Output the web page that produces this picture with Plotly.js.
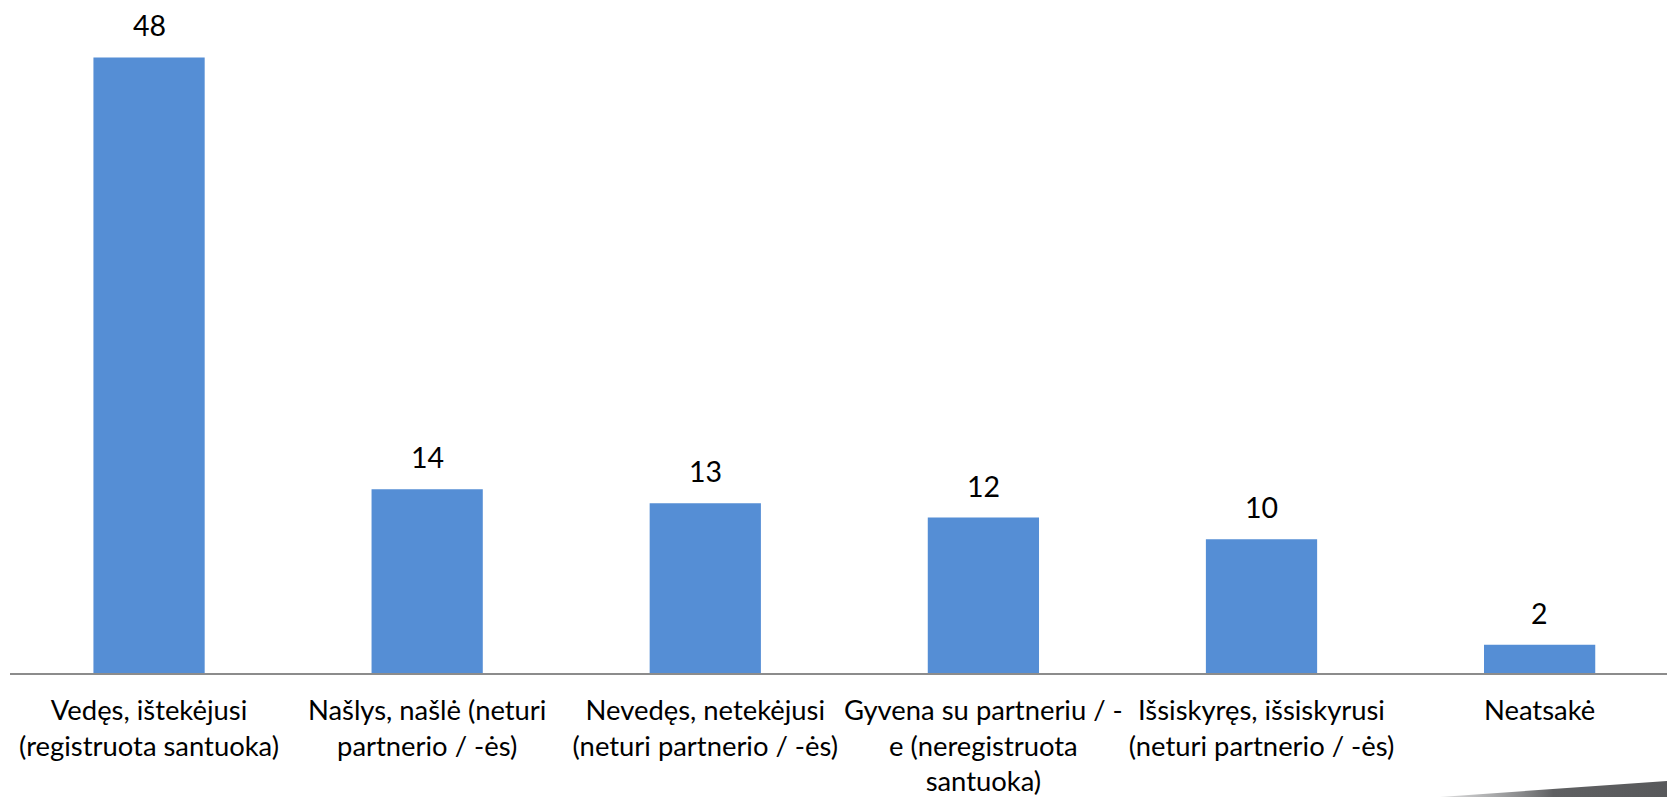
<!DOCTYPE html>
<html>
<head>
<meta charset="utf-8">
<script src="https://cdn.plot.ly/plotly-3.0.1.min.js"></script>
<style>
html,body{margin:0;padding:0;background:#fff;overflow:hidden;}
#chart{width:1667px;height:797px;}
#corner{position:absolute;left:0;top:0;width:1667px;height:797px;pointer-events:none;}
</style>
</head>
<body>
<div id="chart"></div>
<svg id="corner" width="1667" height="797">
<defs>
<linearGradient id="g" x1="0" y1="0" x2="1" y2="0">
<stop offset="0" stop-color="#8a8b8d" stop-opacity="0.3"/>
<stop offset="0.5" stop-color="#5f6062"/>
<stop offset="1" stop-color="#58595b"/>
</linearGradient>
</defs>
<polygon points="1440,797 1667,781 1667,797" fill="url(#g)"/>
</svg>
<script>
var categories = [
  "Vedęs, ištekėjusi<br>(registruota santuoka)",
  "Našlys, našlė (neturi<br>partnerio / -ės)",
  "Nevedęs, netekėjusi<br>(neturi partnerio / -ės)",
  "Gyvena su partneriu / -<br>e (neregistruota<br>santuoka)",
  "Išsiskyręs, išsiskyrusi<br>(neturi partnerio / -ės)",
  "Neatsakė"
];
var values = [47.9, 14.3, 13.2, 12.1, 10.4, 2.2];
var labels = ["48", "14", "13", "12", "10", "2"];

var FONT = "Lato, 'Open Sans', sans-serif";

var trace = {
  type: "bar",
  x: categories,
  y: values,
  marker: {color: "#558ED5", line: {width: 0}},
  width: 0.4,
  hoverinfo: "skip"
};

var annotations = categories.map(function(c, i){
  return {
    x: c, y: values[i], xref: "x", yref: "y",
    text: labels[i], showarrow: false,
    yanchor: "bottom", yshift: 13,
    font: {family: FONT, size: 28.5, color: "#000"}
  };
});

var layout = {
  width: 1667, height: 797,
  margin: {l: 10, r: 0, t: 0, b: 124, pad: 0},
  paper_bgcolor: "#fff", plot_bgcolor: "#fff",
  showlegend: false,
  bargap: 0.6,
  xaxis: {
    type: "category",
    range: [-0.5, 5.458],
    showline: true, linecolor: "#8c8c8c", linewidth: 2,
    showgrid: false, zeroline: false,
    ticks: "", ticklabelstandoff: 12,
    tickfont: {family: FONT, size: 27.4, color: "#000"},
    tickangle: 0, automargin: false, fixedrange: true
  },
  yaxis: {
    range: [0, 52.37],
    visible: false, showgrid: false, zeroline: false, fixedrange: true
  },
  annotations: annotations
};

Plotly.newPlot("chart", [trace], layout, {displayModeBar: false, staticPlot: true});
</script>
</body>
</html>
